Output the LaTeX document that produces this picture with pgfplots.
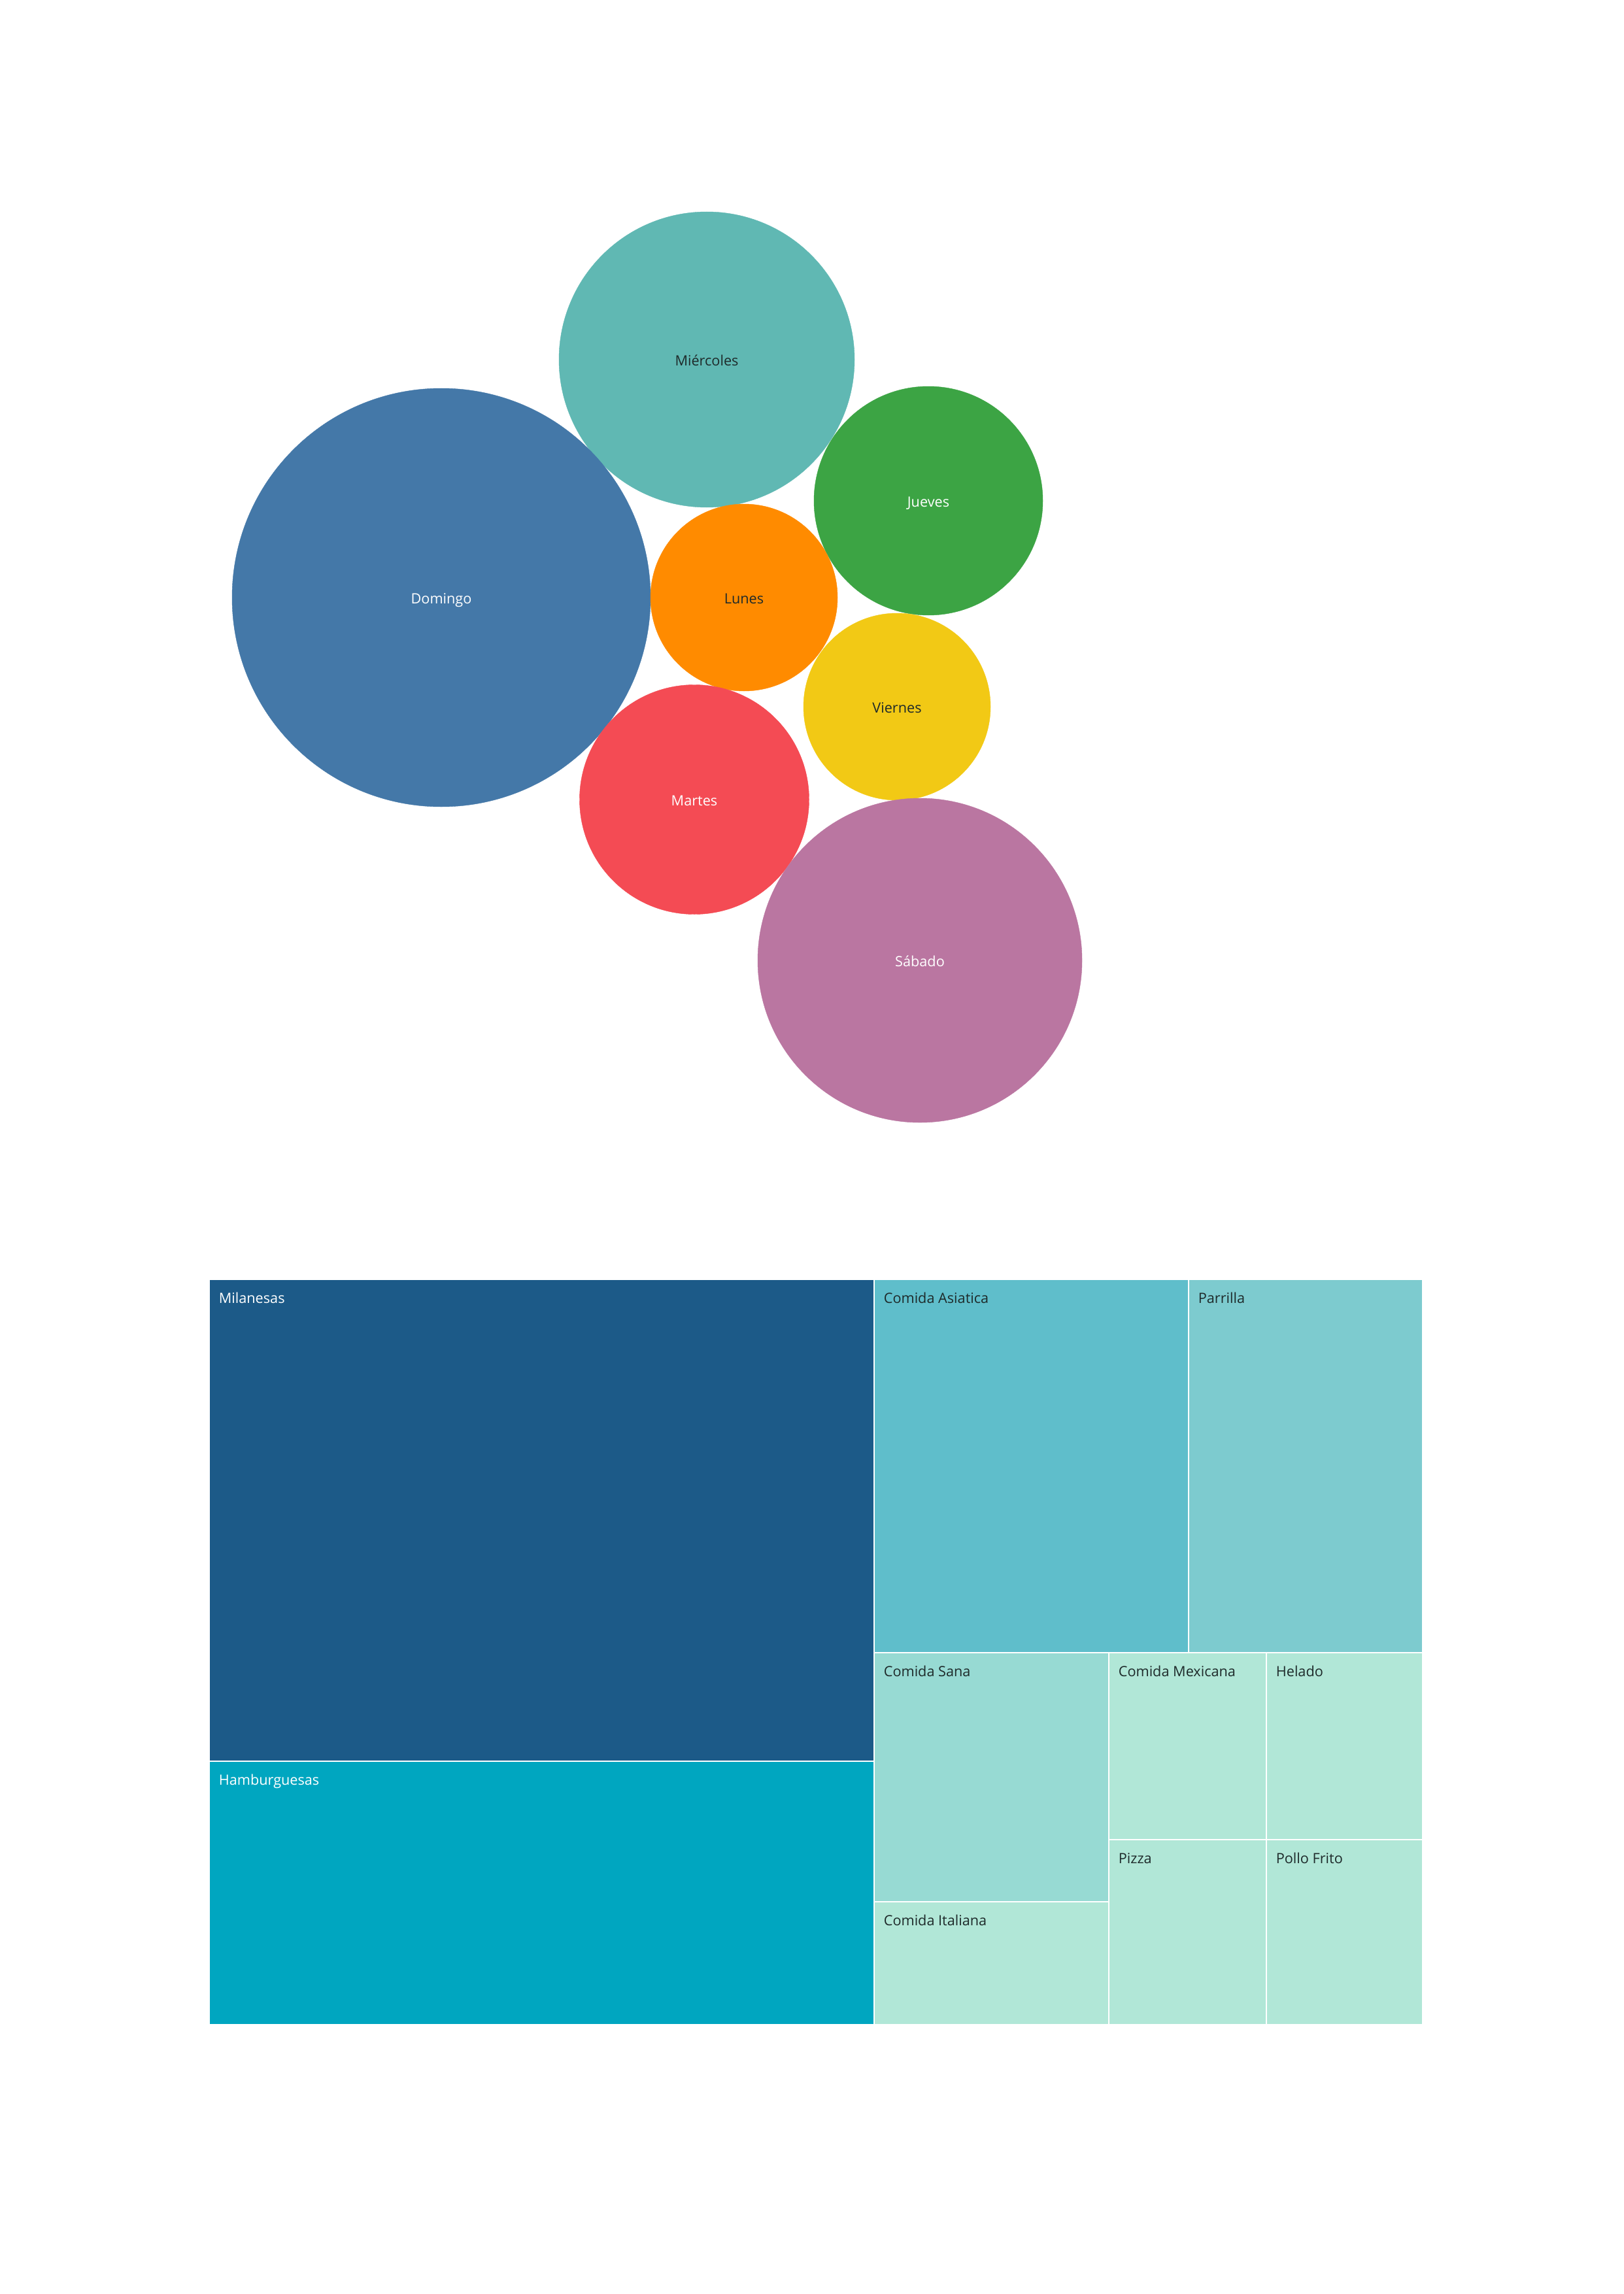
\documentclass[border=0pt]{standalone}
\usepackage{pgfplots}
\pgfplotsset{compat=1.18}
\usepackage{fontspec}
\setmainfont{Open Sans}
\definecolor{cDom}{HTML}{4478A8}
\definecolor{cMie}{HTML}{60B8B3}
\definecolor{cJue}{HTML}{3CA444}
\definecolor{cLun}{HTML}{FF8B00}
\definecolor{cVie}{HTML}{F2C915}
\definecolor{cMar}{HTML}{F44B54}
\definecolor{cSab}{HTML}{BA76A1}
\definecolor{cMil}{HTML}{1C5A88}
\definecolor{cHam}{HTML}{00A6C0}
\definecolor{cAsi}{HTML}{5FBECB}
\definecolor{cPar}{HTML}{7DCBCF}
\definecolor{cSan}{HTML}{97DAD3}
\definecolor{cLig}{HTML}{B1E7D7}
\definecolor{cTxt}{HTML}{1E2A2A}
\tikzset{
  tlab/.style={anchor=base west, inner sep=0pt, font=\fontsize{5.2pt}{6pt}\selectfont},
  rect/.style={fill=#1, draw=white, line width=0.7pt, line join=miter}
}
\pgfplotsset{
  bub/.style n args={2}{only marks, mark=*, color=#1,
    mark options={draw=#1, fill=#1, line width=0.1pt},
    nodes near coords, point meta=explicit symbolic,
    nodes near coords style={anchor=base, inner sep=0pt, yshift=-2.3pt,
      font=\fontsize{5.2pt}{6pt}\selectfont, text=#2}}
}
\begin{document}
\begin{tikzpicture}
\begin{axis}[scale only axis, width=596.16pt, height=842.16pt,
  xmin=0, xmax=2484, ymin=0, ymax=3509, y dir=reverse,
  hide axis, clip=false]
\path (axis cs:0,0) rectangle (axis cs:2484,3509);
% bubbles (centre x, centre y in px; mark size = radius px * 0.24pt)
\addplot[bub={cMie}{cTxt}, mark size=54.24pt] coordinates {(1081,550) [Miércoles]};
\addplot[bub={cDom}{white}, mark size=76.8pt] coordinates {(675,914) [Domingo]};
\addplot[bub={cJue}{white}, mark size=42.0pt] coordinates {(1420,766) [Jueves]};
\addplot[bub={cLun}{cTxt}, mark size=34.32pt] coordinates {(1138,914) [Lunes]};
\addplot[bub={cVie}{cTxt}, mark size=34.32pt] coordinates {(1372,1081) [Viernes]};
\addplot[bub={cMar}{white}, mark size=42.12pt] coordinates {(1062,1223) [Martes]};
\addplot[bub={cSab}{white}, mark size=59.52pt] coordinates {(1407,1469) [Sábado]};
% treemap
\addplot[rect=cMil] coordinates {(320,1957) (1337,1957) (1337,2694) (320,2694)} -- cycle;
\addplot[rect=cHam] coordinates {(320,2694) (1337,2694) (1337,3097) (320,3097)} -- cycle;
\addplot[rect=cAsi] coordinates {(1337,1957) (1818,1957) (1818,2528) (1337,2528)} -- cycle;
\addplot[rect=cPar] coordinates {(1818,1957) (2176,1957) (2176,2528) (1818,2528)} -- cycle;
\addplot[rect=cSan] coordinates {(1337,2528) (1696,2528) (1696,2909) (1337,2909)} -- cycle;
\addplot[rect=cLig] coordinates {(1337,2909) (1696,2909) (1696,3097) (1337,3097)} -- cycle;
\addplot[rect=cLig] coordinates {(1696,2528) (1937,2528) (1937,2814) (1696,2814)} -- cycle;
\addplot[rect=cLig] coordinates {(1937,2528) (2176,2528) (2176,2814) (1937,2814)} -- cycle;
\addplot[rect=cLig] coordinates {(1696,2814) (1937,2814) (1937,3097) (1696,3097)} -- cycle;
\addplot[rect=cLig] coordinates {(1937,2814) (2176,2814) (2176,3097) (1937,3097)} -- cycle;
\node[tlab, text=white] at (axis cs:334,1993) {Milanesas};
\node[tlab, text=white] at (axis cs:334,2730) {Hamburguesas};
\node[tlab, text=cTxt] at (axis cs:1351,1993) {Comida Asiatica};
\node[tlab, text=cTxt] at (axis cs:1832,1993) {Parrilla};
\node[tlab, text=cTxt] at (axis cs:1351,2564) {Comida Sana};
\node[tlab, text=cTxt] at (axis cs:1351,2945) {Comida Italiana};
\node[tlab, text=cTxt] at (axis cs:1710,2564) {Comida Mexicana};
\node[tlab, text=cTxt] at (axis cs:1951,2564) {Helado};
\node[tlab, text=cTxt] at (axis cs:1710,2850) {Pizza};
\node[tlab, text=cTxt] at (axis cs:1951,2850) {Pollo Frito};
\end{axis}
\end{tikzpicture}
\end{document}
